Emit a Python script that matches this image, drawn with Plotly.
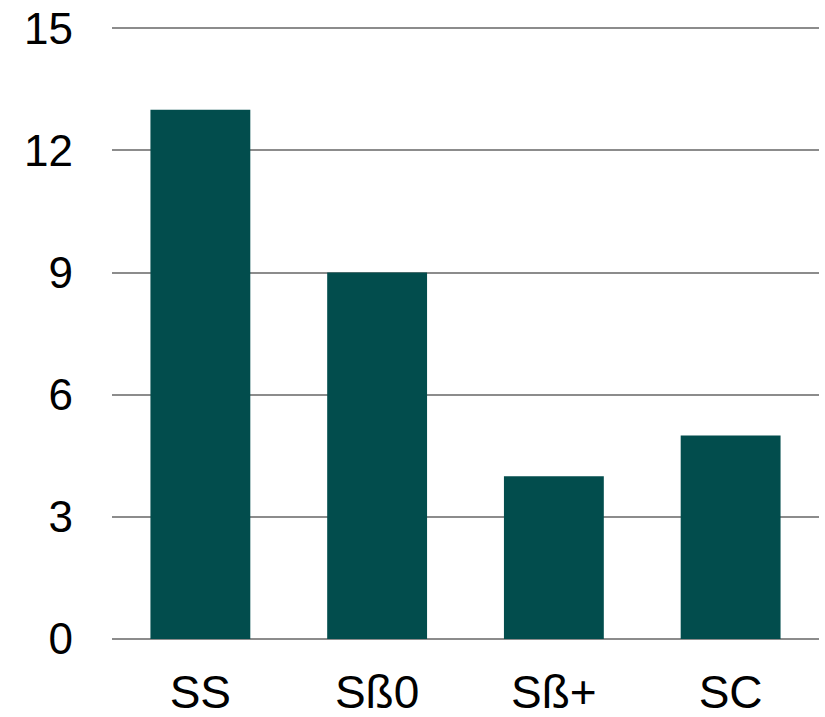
import plotly.graph_objects as go

# Counts per genotype
genotypes = ["SS", "Sß0", "Sß+", "SC"]
counts = [13, 9, 4, 5]
y_ticks = [0, 3, 6, 9, 12, 15]

fig = go.Figure(
    go.Bar(
        x=genotypes,
        y=counts,
        marker=dict(color="#024d4d", line=dict(width=0)),
        hoverinfo="skip",
    )
)

fig.update_layout(
    width=825,
    height=717,
    margin=dict(l=112, r=6, t=27, b=78),
    paper_bgcolor="white",
    plot_bgcolor="white",
    bargap=0.435,
    showlegend=False,
    font=dict(family="Liberation Sans, Arial, sans-serif", size=44, color="#000000"),
)

fig.update_yaxes(
    range=[0, 15.03],
    tickvals=y_ticks,
    showgrid=True,
    gridcolor="#8c8c8c",
    gridwidth=1.5,
    zeroline=True,
    zerolinecolor="#8c8c8c",
    zerolinewidth=1.5,
    showline=False,
    ticks="",
    ticklabelstandoff=38,
    automargin=False,
)

fig.update_xaxes(
    showgrid=False,
    showline=False,
    ticks="",
    tickfont=dict(size=46),
    ticklabelstandoff=22,
    automargin=False,
)

fig.write_html("out.html")
